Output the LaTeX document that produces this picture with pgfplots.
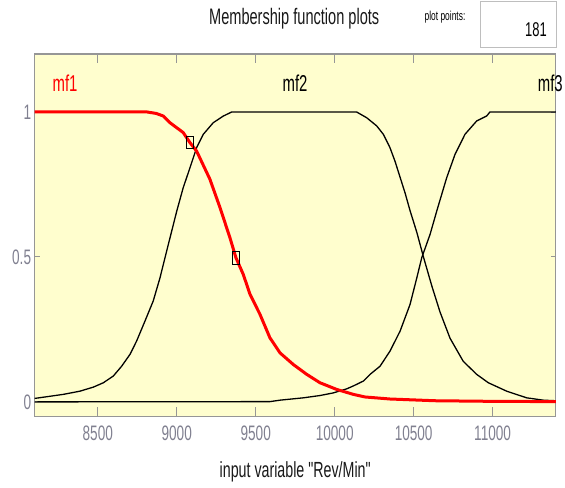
\documentclass[border=0pt]{standalone}
\usepackage{fontspec}
\setmainfont{Liberation Sans}[FakeStretch=0.65, Ligatures=TeXOff]
\usepackage{pgfplots}
\pgfplotsset{compat=1.18}
\definecolor{bgyellow}{RGB}{255,254,206}
\definecolor{tickgray}{RGB}{128,128,144}
\definecolor{axgray}{RGB}{150,150,150}
\definecolor{boxgray}{RGB}{190,190,190}
\begin{document}
\begin{tikzpicture}
\useasboundingbox (0,0) rectangle (565bp,488bp);
\fill[white] (0,0) rectangle (565bp,488bp);
\begin{axis}[
  at={(34.6bp,71.6bp)}, anchor=south west,
  scale only axis, width=521.2bp, height=362.4bp,
  xmin=8100, xmax=11400, ymin=-0.05, ymax=1.2,
  scaled x ticks=false, scaled y ticks=false,
  xtick={8500,9000,9500,10000,10500,11000},
  xticklabels={8500,9000,9500,10000,10500,11000},
  ytick={0,0.5,1}, yticklabels={0,0.5,1},
  /pgf/number format/assume math mode=true,
  axis background/.style={fill=bgyellow},
  axis line style={axgray, line width=1.2bp},
  tick align=inside, tick pos=both,
  every tick/.style={axgray, line width=0.9bp},
  xtick style={/pgfplots/major tick length=9bp},
  ytick style={/pgfplots/major tick length=5bp},
  tick label style={font=\fontsize{21}{24}\selectfont, text=tickgray},
  xticklabel style={yshift=-6bp},
  xlabel={input variable "Rev/Min"},
  xlabel style={font=\fontsize{22}{26}\selectfont, text=black!90, at={(axis description cs:0.5,0)}, anchor=center, yshift=-55.6bp},
  title={Membership function plots},
  title style={font=\fontsize{22.5}{26}\selectfont, text=black!90, at={(axis description cs:0.5,1)}, anchor=base, yshift=23.3bp, xshift=-1bp},
  clip mode=individual,
]
% mf2
\addplot[black, line width=1.3bp] coordinates {
(8100,0.012) (8166,0.017) (8282,0.026) (8387,0.037) (8472,0.051) (8535,0.066)
(8598,0.089) (8651,0.123) (8704,0.164) (8746,0.21) (8799,0.279) (8851,0.348)
(8894,0.428) (8936,0.52) (8968,0.589) (9000,0.658) (9041,0.739) (9084,0.808)
(9126,0.877) (9168,0.923) (9231,0.963) (9295,0.986) (9348,1) (10139,1)
(10203,0.98) (10266,0.952) (10308,0.923) (10350,0.877) (10382,0.83) (10414,0.775)
(10446,0.72) (10477,0.66) (10520,0.585) (10562,0.50) (10615,0.40) (10667,0.31)
(10730,0.22) (10814,0.14) (10899,0.095) (10973,0.066) (11089,0.037) (11216,0.014)
(11321,0.006) (11400,0.004)};
% mf3
\addplot[black, line width=1.3bp] coordinates {
(8100,0) (9590,0.001) (9654,0.006) (9801,0.014) (9907,0.022) (9991,0.031)
(10076,0.045) (10118,0.055) (10182,0.072) (10224,0.095) (10287,0.123) (10350,0.175)
(10414,0.244) (10477,0.336) (10520,0.428) (10551,0.497) (10604,0.578) (10646,0.658)
(10709,0.773) (10762,0.854) (10825,0.923) (10899,0.969) (10962,0.986) (10983,1)
(11400,1)};
% mf1
\addplot[red, line width=3bp] coordinates {
(8100,1) (8812,1) (8870,0.995) (8915,0.986) (8957,0.963) (9041,0.929) (9084,0.894)
(9126,0.865) (9210,0.768) (9274,0.67) (9337,0.566) (9375,0.497) (9421,0.44)
(9464,0.371) (9527,0.302) (9590,0.221) (9654,0.169) (9738,0.129) (9823,0.095)
(9907,0.066) (10013,0.043) (10118,0.026) (10192,0.017) (10350,0.010) (10635,0.004)
(10983,0.002) (11400,0.001)};
\addplot[only marks, mark=square, mark size=6.2bp, mark options={xscale=0.58, line width=1bp, black}] coordinates {(9084,0.894) (9375,0.497)};
\node[red, anchor=base, font=\fontsize{23}{26}\selectfont] at (axis cs:8293,1.07) {mf1};
\node[black, anchor=base, font=\fontsize{23}{26}\selectfont] at (axis cs:9749,1.07) {mf2};
\node[black, anchor=base, font=\fontsize{23}{26}\selectfont] at (axis cs:11365,1.07) {mf3};
\end{axis}
\draw[boxgray, fill=white, line width=1bp] (480bp,486bp) rectangle (556bp,440bp);
\node[anchor=base east, font=\fontsize{20}{24}\selectfont, inner sep=0pt] at (547bp,451bp) {181};
\node[anchor=base, font=\fontsize{13}{15}\selectfont, inner sep=0pt] at (445bp,467bp) {plot points:};
\end{tikzpicture}
\end{document}
